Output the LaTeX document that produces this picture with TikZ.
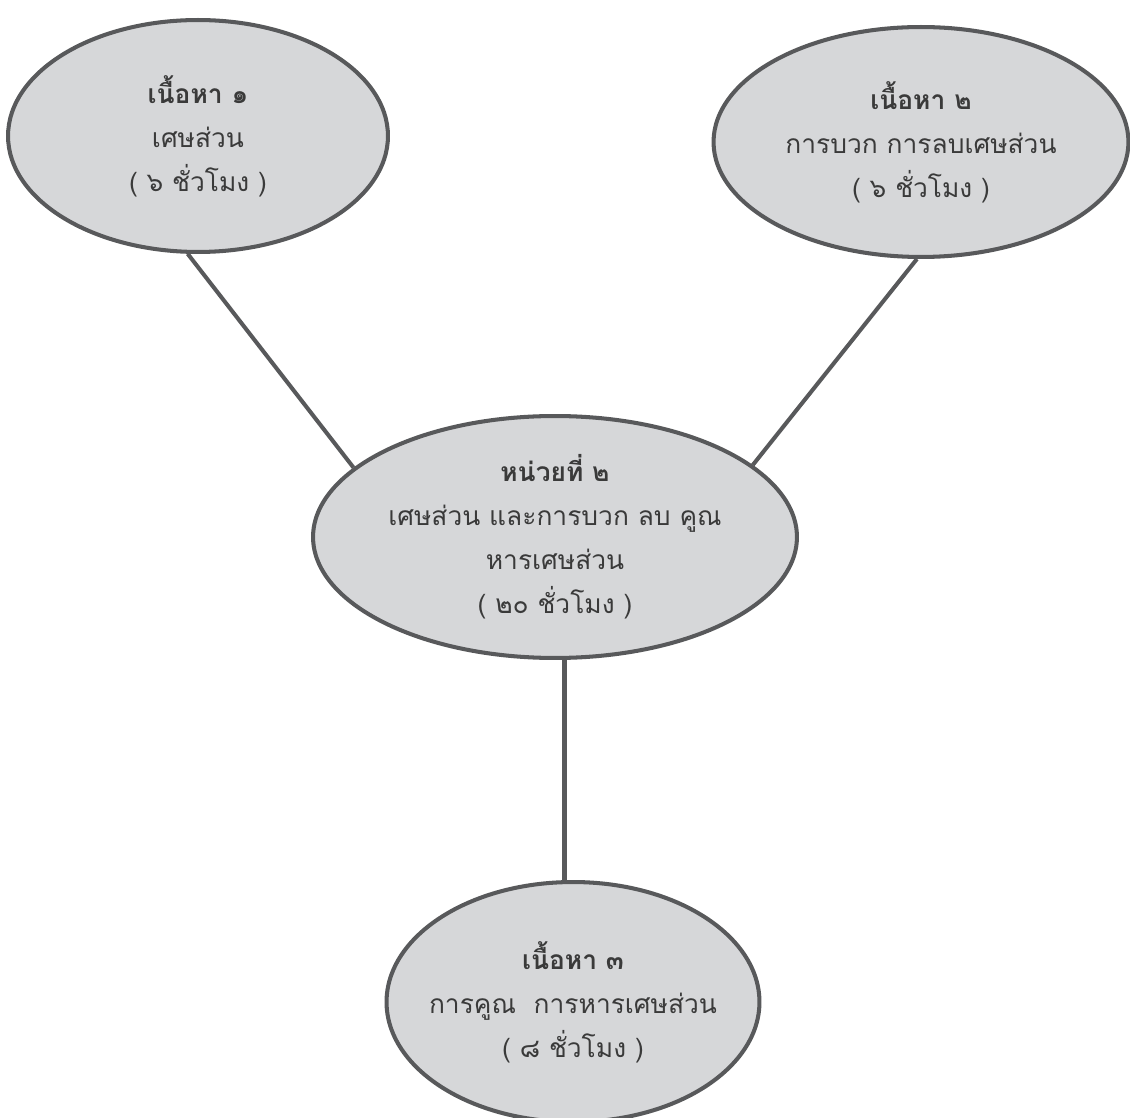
\documentclass[tikz,border=0pt]{standalone}
\usepackage{fontspec}
\newfontfamily\thaifont[Script=Thai]{Loma}
\usetikzlibrary{shapes.geometric}
\definecolor{bubblefill}{HTML}{D6D7D9}
\definecolor{bubbleline}{HTML}{58595B}
\definecolor{bubbletext}{HTML}{3A3A3A}

\begin{document}
\begin{tikzpicture}[x=0.02cm,y=-0.02cm,
  bubble/.style={ellipse,draw=bubbleline,fill=bubblefill,line width=2.3pt,inner sep=-14pt,
    align=center,text=bubbletext,font=\thaifont\fontsize{15}{25}\selectfont},
  link/.style={draw=bubbleline,line width=2.3pt}]
\useasboundingbox (0,0) rectangle (1130,1118);

\coordinate (C1) at (198,136);
\coordinate (C2) at (921,142);
\coordinate (H) at (555,537);
\coordinate (C3) at (573,1002);

\node[bubble,minimum width=7.6cm,minimum height=4.64cm] (topic1) at (C1)
  {\textbf{เนื้อหา ๑}\\เศษส่วน\\( ๖ ชั่วโมง )};
\node[bubble,minimum width=8.3cm,minimum height=4.6cm] (topic2) at (C2)
  {\textbf{เนื้อหา ๒}\\การบวก การลบเศษส่วน\\( ๖ ชั่วโมง )};
\node[bubble,minimum width=9.68cm,minimum height=4.84cm] (unit) at (H)
  {\textbf{หน่วยที่ ๒}\\เศษส่วน และการบวก ลบ คูณ\\หารเศษส่วน\\( ๒๐ ชั่วโมง )};
\node[bubble,minimum width=7.46cm,minimum height=4.8cm] (topic3) at (C3)
  {\textbf{เนื้อหา ๓}\\การคูณ~~การหารเศษส่วน\\( ๘ ชั่วโมง )};

\draw[link] (topic1.265) -- (unit.161);
\draw[link] (topic2.268) -- (unit.20);
\draw[link] (unit.south -| topic3.94) -- (topic3.94);

\end{tikzpicture}
\end{document}
